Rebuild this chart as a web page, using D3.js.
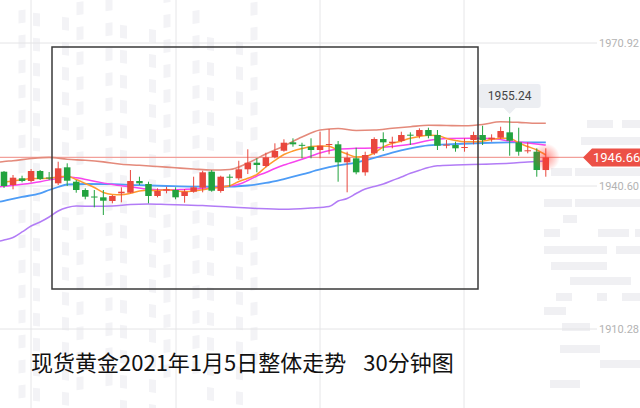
<!DOCTYPE html>
<html>
<head>
<meta charset="utf-8">
<script src="https://cdn.jsdelivr.net/npm/d3@7/dist/d3.min.js"></script>
<style>
  html, body { margin: 0; padding: 0; background: #fff; }
  svg { display: block; }
</style>
</head>
<body>
<div id="chart"></div>
<script>
// 30 min candles
const opens = [1943.63, 1940.81, 1942.23, 1941.66, 1943.78, 1942.40, 1941.17, 1944.56, 1941.51, 1939.75,
  1938.37, 1938.20, 1937.42, 1939.05, 1939.18, 1941.66, 1941.02, 1938.48, 1939.60, 1939.75,
  1938.48, 1939.39, 1940.24, 1943.63, 1939.54, 1942.57, 1942.23, 1944.14, 1945.54, 1944.84,
  1946.75, 1948.08, 1949.86, 1949.33, 1948.93, 1948.23, 1949.36, 1949.44, 1945.62, 1946.47,
  1943.50, 1947.53, 1950.56, 1949.72, 1950.14, 1951.48, 1951.20, 1952.47, 1951.41, 1949.23,
  1949.29, 1948.72, 1950.35, 1951.41, 1950.50, 1950.84, 1951.98, 1949.86, 1948.02, 1947.87, 1943.99];
const highs = [1943.78, 1942.93, 1942.78, 1944.20, 1943.99, 1943.57, 1945.75, 1945.41, 1941.87, 1940.11,
  1939.75, 1939.75, 1938.69, 1940.32, 1943.99, 1942.57, 1941.51, 1940.11, 1940.45, 1940.32,
  1939.96, 1942.57, 1943.84, 1943.99, 1942.78, 1943.08, 1945.96, 1948.38, 1946.47, 1947.66,
  1949.65, 1950.50, 1950.71, 1949.78, 1950.71, 1952.11, 1952.68, 1950.14, 1947.87, 1948.72,
  1947.87, 1950.92, 1951.98, 1951.05, 1952.11, 1951.98, 1952.83, 1952.96, 1952.47, 1950.35,
  1949.99, 1950.71, 1952.11, 1953.38, 1951.56, 1953.17, 1955.24, 1952.96, 1949.86, 1948.59, 1948.59];
const lows = [1940.18, 1939.90, 1941.38, 1941.38, 1941.87, 1941.87, 1940.81, 1940.60, 1939.18, 1937.78,
  1936.08, 1934.45, 1936.93, 1937.14, 1939.05, 1940.81, 1936.93, 1938.20, 1939.05, 1937.78,
  1937.06, 1939.18, 1939.26, 1939.39, 1939.18, 1940.45, 1941.87, 1943.14, 1943.50, 1944.56,
  1946.47, 1947.87, 1948.93, 1946.47, 1946.47, 1946.47, 1947.32, 1941.51, 1939.26, 1943.08,
  1942.78, 1947.17, 1948.02, 1948.59, 1949.86, 1949.29, 1950.71, 1950.71, 1948.23, 1948.59,
  1947.87, 1947.87, 1949.44, 1949.29, 1949.99, 1950.56, 1947.02, 1947.02, 1947.53, 1942.57, 1942.57];
const closes = [1940.60, 1942.36, 1941.66, 1943.78, 1942.08, 1942.19, 1944.35, 1941.72, 1939.75, 1938.33,
  1938.27, 1937.48, 1938.48, 1939.39, 1941.66, 1941.17, 1938.48, 1939.54, 1939.90, 1938.20,
  1939.39, 1940.32, 1943.50, 1939.60, 1942.57, 1942.36, 1944.14, 1945.54, 1945.05, 1946.68,
  1948.02, 1949.78, 1949.44, 1949.23, 1948.23, 1949.14, 1949.50, 1945.62, 1946.60, 1943.50,
  1947.17, 1950.56, 1949.86, 1949.99, 1951.41, 1951.35, 1952.47, 1951.26, 1949.14, 1949.36,
  1948.59, 1948.87, 1951.41, 1950.35, 1950.84, 1952.26, 1950.20, 1947.87, 1948.17, 1943.99, 1946.66];

// short moving average, one value per candle
const maShort = [1941.45, 1941.66, 1941.91, 1942.17, 1942.20, 1942.23, 1942.55, 1942.66, 1941.98, 1941.13,
  1940.28, 1939.22, 1938.80, 1938.73, 1939.05, 1939.54, 1939.71, 1939.62, 1939.84, 1939.58,
  1939.43, 1939.54, 1939.79, 1940.11, 1940.35, 1940.66, 1941.55, 1942.23, 1943.04, 1944.63,
  1946.01, 1947.28, 1948.02, 1948.55, 1948.95, 1949.08, 1949.02, 1948.13, 1947.38, 1946.75,
  1946.85, 1947.60, 1948.87, 1949.65, 1950.14, 1950.71, 1951.09, 1951.37, 1951.31, 1950.67,
  1950.25, 1949.99, 1949.99, 1950.10, 1950.46, 1950.71, 1950.71, 1949.72, 1948.97, 1948.23, 1947.17];

// other lines as [candle index, value]; they start at the left edge
const maMid = [[-0.45, 1940.45], [0, 1940.52], [2, 1940.96], [4, 1941.51], [6, 1942.25], [7, 1942.57], [8, 1942.34],
  [10, 1941.62], [12, 1940.90], [14, 1940.43], [16, 1939.92], [18, 1939.75], [20, 1939.88],
  [22, 1940.07], [24, 1940.39], [26, 1940.96], [27, 1941.77], [28, 1942.72], [29, 1943.46],
  [30, 1944.31], [31, 1945.05], [33, 1946.26], [35, 1947.60], [37, 1948.44], [39, 1948.59],
  [41, 1948.66], [43, 1948.97], [45, 1949.44], [47, 1950.25], [49, 1950.69], [52, 1950.71],
  [54, 1950.67], [56, 1950.14], [58, 1949.72], [60, 1949.29]];
const maLong = [[-0.45, 1937.27], [0, 1937.46], [2, 1938.29], [4, 1939.05], [5, 1939.75], [6, 1940.39], [7, 1940.92],
  [9, 1941.02], [12, 1940.98], [15, 1940.77], [18, 1940.60], [21, 1940.47], [24, 1940.45],
  [27, 1940.71], [29, 1941.24], [31, 1942.08], [33, 1943.04], [35, 1944.10], [37, 1944.95],
  [39, 1945.58], [41, 1946.54], [43, 1947.70], [45, 1948.59], [47, 1949.23], [50, 1949.50],
  [53, 1949.72], [56, 1949.84], [60, 1949.86]];
const bandUpper = [[-0.45, 1945.70], [0, 1945.80], [1, 1945.96], [3, 1946.43], [5, 1946.68], [7, 1946.26], [9, 1946.05],
  [11, 1945.71], [13, 1945.20], [15, 1944.99], [17, 1944.73], [19, 1944.46], [21, 1944.20],
  [23, 1943.99], [25, 1944.10], [27, 1945.48], [29, 1947.38], [31, 1949.08], [33, 1950.99],
  [35, 1952.47], [37, 1952.79], [39, 1952.37], [41, 1952.47], [43, 1952.83], [45, 1953.17],
  [47, 1953.49], [49, 1953.43], [51, 1953.38], [53, 1953.64], [55, 1954.21], [57, 1954.10],
  [59, 1953.89], [60, 1953.89]];
const bandLower = [[-0.45, 1928.95], [0, 1929.15], [1, 1929.68], [2, 1930.85], [3, 1932.12], [4, 1932.97], [5, 1934.03],
  [6, 1935.30], [7, 1936.04], [8, 1936.36], [10, 1936.30], [12, 1936.36], [14, 1936.68],
  [16, 1936.78], [18, 1936.68], [20, 1936.57], [22, 1936.47], [25, 1936.15], [28, 1935.83],
  [31, 1935.66], [34, 1935.94], [36, 1936.25], [37, 1937.42], [38, 1937.95], [39, 1939.01],
  [40, 1939.96], [41, 1940.49], [42, 1941.02], [43, 1941.77], [44, 1942.51], [45, 1943.29],
  [46, 1943.93], [47, 1944.52], [48, 1944.90], [50, 1945.05], [53, 1945.22], [56, 1945.41],
  [58, 1945.69], [60, 1945.90]];

const yTicks = [1910.28, 1940.60, 1970.92];
const lastPrice = 1946.66;
const peakIndex = 56;
const titleText = "现货黄金2021年1月5日整体走势  30分钟图";

const width = 640, height = 408;
const upColor = "#e9473d", downColor = "#22a33f";

const svg = d3.select("#chart").append("svg")
  .attr("width", width)
  .attr("height", height);

const defs = svg.append("defs");
const glow = defs.append("radialGradient").attr("id", "glow");
glow.append("stop").attr("offset", "0%").attr("stop-color", "#ff3b30").attr("stop-opacity", 0.55);
glow.append("stop").attr("offset", "100%").attr("stop-color", "#ff3b30").attr("stop-opacity", 0);

// faint watermark behind the chart
const wm = svg.append("g").attr("fill", "#f3f3f6");
for (let c = 0; c < 18; c++) {
  for (let r = 0; r < 16; r++) {
    if ((c * 7 + r * 3) % 3 === 0) continue;
    wm.append("rect")
      .attr("x", 4 + c * 14.5)
      .attr("y", 8 + r * 25 + (c % 2) * 5)
      .attr("width", 7)
      .attr("height", 13)
      .attr("transform", `skewY(${c % 2 ? -8 : 8})`);
  }
}
const bars = [[587, 120, 26], [622, 120, 18], [581, 137, 59], [551, 168, 21], [575, 168, 65],
  [544, 199, 28], [575, 199, 65], [563, 215, 14], [544, 229, 16], [598, 229, 31], [635, 229, 5],
  [544, 246, 63], [616, 246, 24], [551, 262, 56], [570, 277, 61], [556, 293, 16], [597, 293, 10],
  [622, 293, 18], [544, 307, 22], [562, 323, 28], [560, 345, 40], [600, 360, 40], [550, 380, 30]];
svg.append("g").attr("fill", "#f0f0f3")
  .selectAll("rect").data(bars).join("rect")
  .attr("x", d => d[0]).attr("y", d => d[1])
  .attr("width", d => d[2]).attr("height", 8);

const x = d3.scaleLinear().domain([0, opens.length - 1]).range([4, 545.8]);
const y = d3.scaleLinear().domain([1910.28, 1970.92]).range([329, 43]);

// vertical grid
svg.append("g").selectAll("line").data([31, 176, 320, 464]).join("line")
  .attr("x1", d => d).attr("x2", d => d)
  .attr("y1", 0).attr("y2", height)
  .attr("stroke", "#e6e6e8").attr("stroke-width", 1);

// horizontal grid + labels
const yAxis = svg.append("g");
yAxis.selectAll("line").data(yTicks).join("line")
  .attr("x1", 0).attr("x2", 597)
  .attr("y1", d => y(d)).attr("y2", d => y(d))
  .attr("stroke", "#e4e4e6").attr("stroke-width", 1);
yAxis.selectAll("text").data(yTicks).join("text")
  .attr("x", 599).attr("y", d => y(d)).attr("dy", "0.35em")
  .attr("font-family", "Roboto, 'Liberation Sans', sans-serif")
  .attr("font-size", 11).attr("fill", "#b3b3b3")
  .text(d => d.toFixed(2));

// current price line
svg.append("line")
  .attr("x1", 0).attr("x2", 585)
  .attr("y1", y(lastPrice)).attr("y2", y(lastPrice))
  .attr("stroke", "#f2a09a").attr("stroke-width", 1.2);

const curveLine = d3.line()
  .x(d => x(d[0]))
  .y(d => y(d[1]))
  .curve(d3.curveMonotoneX);

const lines = [
  { pts: bandLower, color: "#b27cf6", w: 1.5 },
  { pts: bandUpper, color: "#e48a7b", w: 1.6 },
  { pts: maLong, color: "#4d9cf6", w: 1.8 },
  { pts: maMid, color: "#f744ee", w: 1.5 },
  { pts: maShort.map((v, i) => [i, v]), color: "#ff9a2e", w: 1.5 }
];
svg.append("g").selectAll("path").data(lines).join("path")
  .attr("d", d => curveLine(d.pts))
  .attr("fill", "none")
  .attr("stroke", d => d.color)
  .attr("stroke-width", d => d.w);

// candles
const candles = opens.map((o, i) => ({ i, o, h: highs[i], l: lows[i], c: closes[i] }));
const bodyW = 6.5;
const cg = svg.append("g").selectAll("g").data(candles).join("g")
  .attr("fill", d => d.c >= d.o ? upColor : downColor)
  .attr("stroke", d => d.c >= d.o ? upColor : downColor);
cg.append("line")
  .attr("x1", d => x(d.i)).attr("x2", d => x(d.i))
  .attr("y1", d => y(d.h)).attr("y2", d => y(d.l))
  .attr("stroke-width", 1);
cg.append("rect")
  .attr("x", d => x(d.i) - bodyW / 2)
  .attr("y", d => y(Math.max(d.o, d.c)))
  .attr("width", bodyW)
  .attr("height", d => Math.max(1, Math.abs(y(d.o) - y(d.c))))
  .attr("stroke", "none");

// glow on the last candle
svg.append("circle")
  .attr("cx", x(opens.length - 1)).attr("cy", y(lastPrice))
  .attr("r", 14).attr("fill", "url(#glow)");

// price tag
const py = y(lastPrice);
svg.append("path")
  .attr("d", `M583,${py} L592,${py - 9} L640,${py - 9} L640,${py + 9} L592,${py + 9} Z`)
  .attr("fill", "#ec5046");
svg.append("text")
  .attr("x", 593).attr("y", py).attr("dy", "0.36em")
  .attr("font-family", "Roboto, 'Liberation Sans', sans-serif")
  .attr("font-size", 13).attr("fill", "#fff")
  .text(lastPrice.toFixed(2));

// peak tooltip
const tx = x(peakIndex), ty = y(highs[peakIndex]);
svg.append("path")
  .attr("d", `M${tx - 28},${ty - 33} h56 a3,3 0 0 1 3,3 v18 a3,3 0 0 1 -3,3 h-22 l-6,6 l-6,-6 h-22 a3,3 0 0 1 -3,-3 v-18 a3,3 0 0 1 3,-3 Z`)
  .attr("fill", "#eceef2");
svg.append("text")
  .attr("x", tx).attr("y", ty - 21).attr("dy", "0.35em")
  .attr("text-anchor", "middle")
  .attr("font-family", "Roboto, 'Liberation Sans', sans-serif")
  .attr("font-size", 12).attr("fill", "#444")
  .text(highs[peakIndex].toFixed(2));

// highlight box
svg.append("rect")
  .attr("x", 52).attr("y", 47)
  .attr("width", 426).attr("height", 242)
  .attr("fill", "none")
  .attr("stroke", "#3a3a3a").attr("stroke-width", 1.5);

// title: the two parts sit apart by a wide gap
const titleParts = titleText.split("  ");
const title = svg.append("text")
  .attr("x", 31).attr("y", 371)
  .attr("font-family", "'Noto Sans CJK SC', sans-serif")
  .attr("font-size", 22).attr("fill", "#111");
title.selectAll("tspan").data(titleParts).join("tspan")
  .attr("dx", (d, i) => i === 0 ? 0 : 17)
  .text(d => d);
</script>
</body>
</html>
